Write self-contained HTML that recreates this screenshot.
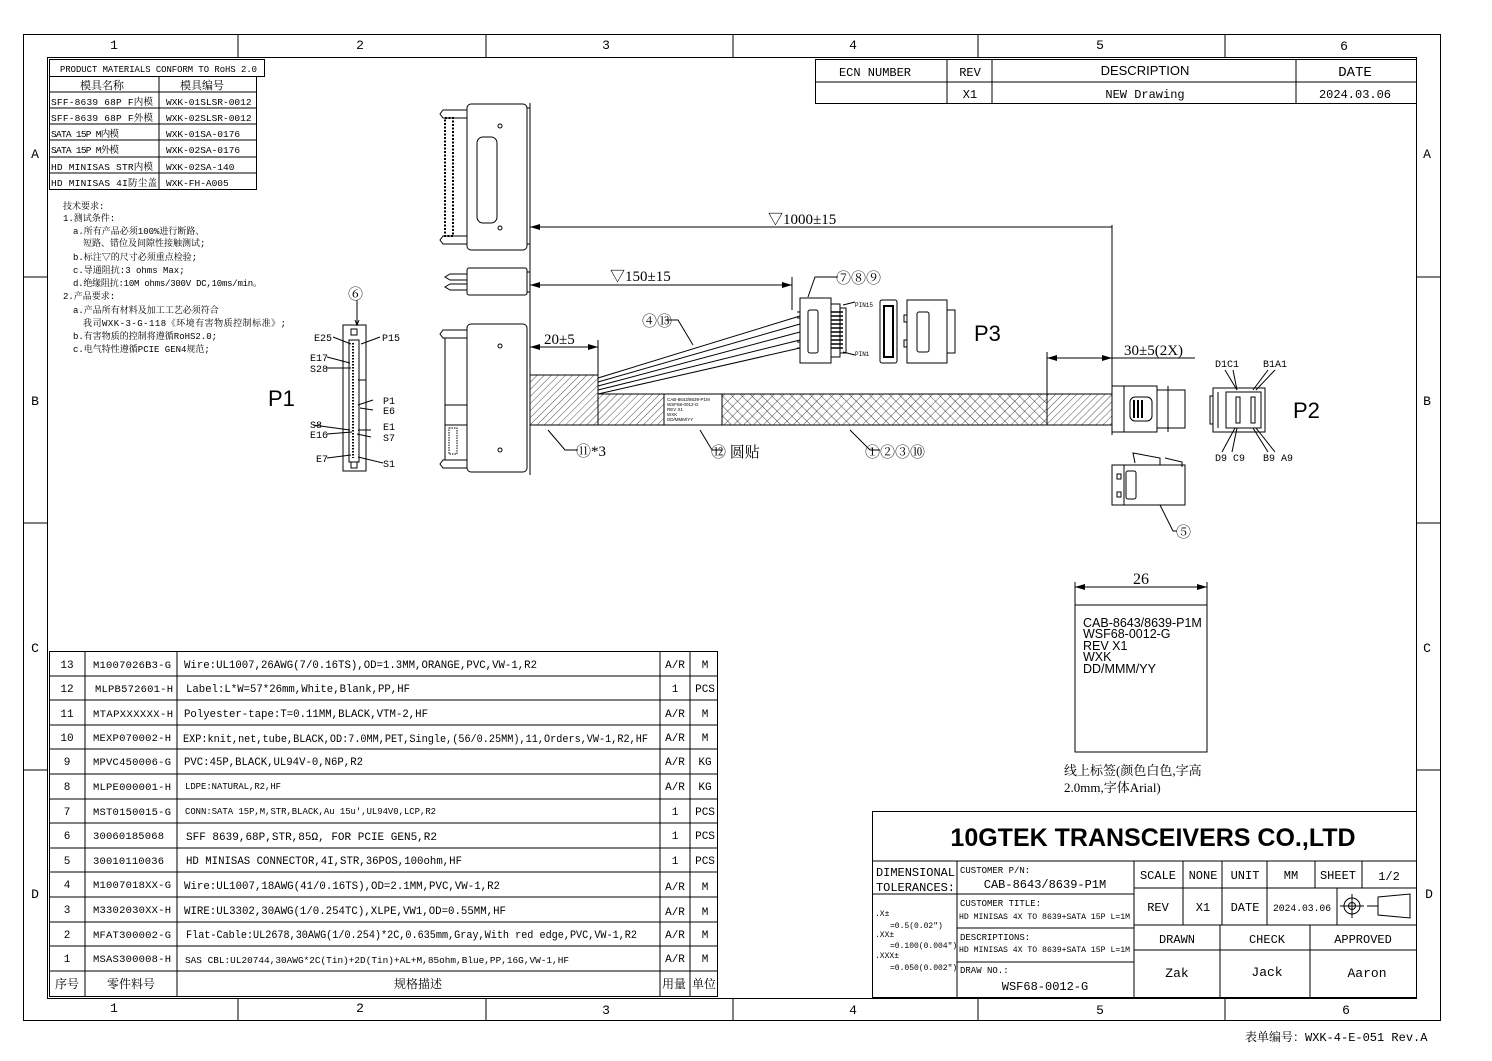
<!DOCTYPE html>
<html><head><meta charset="utf-8"><style>
html,body{margin:0;padding:0;background:#fff}
svg{display:block}
text{font-family:"Liberation Mono","Noto Serif CJK SC",monospace;fill:#000}
.s{font-family:"Liberation Sans","Noto Sans CJK SC",sans-serif}
.c{font-family:"Liberation Serif","Noto Serif CJK SC",serif}
</style></head><body>
<svg width="1492" height="1061" viewBox="0 0 1492 1061" xmlns="http://www.w3.org/2000/svg">
<defs>
<pattern id="h" width="5" height="5" patternUnits="userSpaceOnUse" patternTransform="rotate(45)"><line x1="0" y1="0" x2="0" y2="5" stroke="#000" stroke-width="0.7"/></pattern>
<pattern id="x" width="7" height="7" patternUnits="userSpaceOnUse" patternTransform="rotate(45)"><path d="M0 0V7M0 0H7" stroke="#000" stroke-width="0.7" fill="none"/></pattern>
<marker id="a" markerWidth="10" markerHeight="6" refX="10" refY="3" orient="auto-start-reverse"><path d="M0 0L10 3L0 6z" fill="#000"/></marker>
</defs>
<rect width="1492" height="1061" fill="#fff"/>
<g fill="none" stroke="#000" stroke-width="1">
<rect x="23.5" y="34.5" width="1417" height="986"/>
<rect x="47.5" y="57.5" width="1369" height="941"/>
<path d="M238 34V57M486 34V57M733 34V57M978 34V57M1225 34V57M238 998V1020M486 998V1020M733 998V1020M978 998V1020M1225 998V1020M23 277H47M23 523H47M23 770H47M1416 277H1440M1416 523H1440M1416 770H1440"/>
<rect x="815.5" y="59.5" width="601" height="44"/>
<path d="M815 82H1416M947 59V103M992 59V103M1296 59V103"/>
<rect x="49.5" y="59.5" width="215" height="17"/>
<rect x="49.5" y="76.5" width="207" height="113"/>
<path d="M49 92H256M49 108H256M49 124H256M49 140H256M49 157H256M49 173H256M159 76V189"/>
<rect x="49.5" y="651.5" width="668" height="345"/>
<path d="M85 651V996M177 651V996M660 651V996M690 651V996"/>
<path d="M49 676H717M49 700H717M49 725H717M49 749H717M49 774H717M49 799H717M49 823H717M49 848H717M49 872H717M49 897H717M49 922H717M49 946H717M49 971H717"/>
<rect x="872.5" y="811.5" width="544" height="186"/>
<path d="M872 861H1416M957 861V997M1134 861V997M872 894H957M957 894H1134M957 928H1134M957 962H1134M1134 888H1416M1134 925H1416M1134 950H1416M1183 861V925M1222 861V925M1267 861V925M1315 861V888M1362 861V888M1337 888V925M1220 925V997M1310 925V997"/>
<circle cx="1352" cy="906" r="8"/><circle cx="1352" cy="906" r="3.5"/><path d="M1340 906H1364M1352 894V918M1367 906H1378M1378 897L1410 894V918L1378 915Z"/>
</g>
<g font-size="13" text-anchor="middle">
<text x="114" y="49">1</text><text x="360" y="49">2</text><text x="606" y="49">3</text><text x="853" y="49">4</text><text x="1100" y="49">5</text><text x="1344" y="50">6</text>
<text x="114" y="1012">1</text><text x="360" y="1012">2</text><text x="606" y="1014">3</text><text x="853" y="1014">4</text><text x="1100" y="1014">5</text><text x="1346" y="1014">6</text>
<text x="35" y="158">A</text><text x="35" y="405">B</text><text x="35" y="652">C</text><text x="35" y="898">D</text>
<text x="1427" y="158">A</text><text x="1427" y="405">B</text><text x="1427" y="652">C</text><text x="1429" y="898">D</text>
</g>
<g font-size="12" text-anchor="middle">
<text x="875" y="76">ECN NUMBER</text><text x="970" y="76">REV</text><text x="1145" y="75" class="s" font-size="13">DESCRIPTION</text><text x="1355" y="76" font-size="14">DATE</text>
<text x="970" y="98">X1</text><text x="1145" y="98">NEW Drawing</text><text x="1355" y="98">2024.03.06</text>
</g>
<g font-size="9.5">
<text x="60" y="72" textLength="197" lengthAdjust="spacingAndGlyphs">PRODUCT MATERIALS CONFORM TO RoHS 2.0</text>
<text x="80" y="89" font-size="11">模具名称</text><text x="180" y="89" font-size="11">模具编号</text>
<text x="51" y="105" textLength="102">SFF-8639 68P F内模</text><text x="166" y="105">WXK-01SLSR-0012</text>
<text x="51" y="121" textLength="102">SFF-8639 68P F外模</text><text x="166" y="121">WXK-02SLSR-0012</text>
<text x="51" y="137" textLength="68">SATA 15P M内模</text><text x="166" y="137">WXK-01SA-0176</text>
<text x="51" y="153" textLength="68">SATA 15P M外模</text><text x="166" y="153">WXK-02SA-0176</text>
<text x="51" y="170" textLength="102">HD MINISAS STR内模</text><text x="166" y="170">WXK-02SA-140</text>
<text x="51" y="186" textLength="106">HD MINISAS 4I防尘盖</text><text x="166" y="186">WXK-FH-A005</text>
</g>
<g font-size="9">
<text x="63" y="209">技术要求:</text>
<text x="63" y="221">1.测试条件:</text>
<text x="73" y="234">a.所有产品必须100%进行断路、</text>
<text x="83" y="246">短路、错位及间隙性接触测试;</text>
<text x="73" y="260">b.标注▽的尺寸必须重点检验;</text>
<text x="73" y="273">c.导通阻抗:3 ohms Max;</text>
<text x="73" y="286" textLength="189">d.绝缘阻抗:10M ohms/300V DC,10ms/min。</text>
<text x="63" y="299">2.产品要求:</text>
<text x="73" y="313">a.产品所有材料及加工工艺必须符合</text>
<text x="83" y="326" textLength="203">我司WXK-3-G-118《环境有害物质控制标准》;</text>
<text x="73" y="339">b.有害物质的控制将遵循RoHS2.0;</text>
<text x="73" y="352">c.电气特性遵循PCIE GEN4规范;</text>
</g>
<g font-size="11">
<g text-anchor="middle">
<text x="67" y="668">13</text><text x="67" y="692">12</text><text x="67" y="717">11</text><text x="67" y="741">10</text><text x="67" y="765">9</text><text x="67" y="790">8</text><text x="67" y="815">7</text><text x="67" y="839">6</text><text x="67" y="864">5</text><text x="67" y="888">4</text><text x="67" y="913">3</text><text x="67" y="938">2</text><text x="67" y="962">1</text><text x="67" y="988" font-size="12">序号</text>
</g>
<g font-size="10.5">
<text x="93" y="668" textLength="78">M1007026B3-G</text><text x="95" y="692" textLength="78">MLPB572601-H</text><text x="93" y="717" textLength="80">MTAPXXXXXX-H</text><text x="93" y="741" textLength="78">MEXP070002-H</text><text x="93" y="765" textLength="78">MPVC450006-G</text><text x="93" y="790" textLength="78">MLPE000001-H</text><text x="93" y="815" textLength="78">MST0150015-G</text><text x="93" y="839" textLength="71">30060185068</text><text x="93" y="864" textLength="71">30010110036</text><text x="93" y="888" textLength="78">M1007018XX-G</text><text x="93" y="913" textLength="78">M3302030XX-H</text><text x="93" y="938" textLength="78">MFAT300002-G</text><text x="93" y="962" textLength="78">MSAS300008-H</text>
</g>
<g text-anchor="middle">
<text x="131" y="988" font-size="12">零件料号</text>
<text x="418" y="988" font-size="12">规格描述</text>
<text x="675" y="668">A/R</text><text x="675" y="692">1</text><text x="675" y="717">A/R</text><text x="675" y="741">A/R</text><text x="675" y="765">A/R</text><text x="675" y="790">A/R</text><text x="675" y="815">1</text><text x="675" y="839">1</text><text x="675" y="864">1</text><text x="675" y="890">A/R</text><text x="675" y="915">A/R</text><text x="675" y="938">A/R</text><text x="675" y="962">A/R</text><text x="674" y="988" font-size="12">用量</text>
<text x="705" y="668">M</text><text x="705" y="692">PCS</text><text x="705" y="717">M</text><text x="705" y="741">M</text><text x="705" y="765">KG</text><text x="705" y="790">KG</text><text x="705" y="815">PCS</text><text x="705" y="839">PCS</text><text x="705" y="864">PCS</text><text x="705" y="890">M</text><text x="705" y="915">M</text><text x="705" y="938">M</text><text x="705" y="962">M</text><text x="704" y="988" font-size="12">单位</text>
</g>
<g lengthAdjust="spacingAndGlyphs">
<text x="184" y="668" textLength="353" lengthAdjust="spacingAndGlyphs">Wire:UL1007,26AWG(7/0.16TS),OD=1.3MM,ORANGE,PVC,VW-1,R2</text>
<text x="186" y="692" textLength="224" lengthAdjust="spacingAndGlyphs">Label:L*W=57*26mm,White,Blank,PP,HF</text>
<text x="184" y="717" textLength="244" lengthAdjust="spacingAndGlyphs">Polyester-tape:T=0.11MM,BLACK,VTM-2,HF</text>
<text x="183" y="742" textLength="465" lengthAdjust="spacingAndGlyphs">EXP:knit,net,tube,BLACK,OD:7.0MM,PET,Single,(56/0.25MM),11,Orders,VW-1,R2,HF</text>
<text x="184" y="765" textLength="179" lengthAdjust="spacingAndGlyphs">PVC:45P,BLACK,UL94V-0,N6P,R2</text>
<text x="185" y="789" font-size="9" textLength="96" lengthAdjust="spacingAndGlyphs">LDPE:NATURAL,R2,HF</text>
<text x="185" y="814" font-size="9" textLength="251" lengthAdjust="spacingAndGlyphs">CONN:SATA 15P,M,STR,BLACK,Au 15u',UL94V0,LCP,R2</text>
<text x="186" y="840" textLength="251" lengthAdjust="spacingAndGlyphs">SFF 8639,68P,STR,85Ω, FOR PCIE GEN5,R2</text>
<text x="186" y="864" textLength="276" lengthAdjust="spacingAndGlyphs">HD MINISAS CONNECTOR,4I,STR,36POS,100ohm,HF</text>
<text x="184" y="889" textLength="316" lengthAdjust="spacingAndGlyphs">Wire:UL1007,18AWG(41/0.16TS),OD=2.1MM,PVC,VW-1,R2</text>
<text x="184" y="914" textLength="322" lengthAdjust="spacingAndGlyphs">WIRE:UL3302,30AWG(1/0.254TC),XLPE,VW1,OD=0.55MM,HF</text>
<text x="186" y="938" textLength="451" lengthAdjust="spacingAndGlyphs">Flat-Cable:UL2678,30AWG(1/0.254)*2C,0.635mm,Gray,With red edge,PVC,VW-1,R2</text>
<text x="185" y="963" font-size="9.5" textLength="384" lengthAdjust="spacingAndGlyphs">SAS CBL:UL20744,30AWG*2C(Tin)+2D(Tin)+AL+M,85ohm,Blue,PP,16G,VW-1,HF</text>
</g>
</g>
<text x="1153" y="846" class="s" font-size="25" font-weight="bold" text-anchor="middle">10GTEK TRANSCEIVERS CO.,LTD</text>
<g font-size="12">
<text x="876" y="876" textLength="79">DIMENSIONAL</text><text x="876" y="891" textLength="79">TOLERANCES:</text>
<text x="875" y="916" font-size="8">.X±</text><text x="890" y="928" font-size="8">=0.5(0.02")</text>
<text x="875" y="937" font-size="8">.XX±</text><text x="890" y="948" font-size="8">=0.100(0.004")</text>
<text x="875" y="958" font-size="8">.XXX±</text><text x="890" y="970" font-size="8">=0.050(0.002")</text>
<text x="960" y="873" font-size="9">CUSTOMER P/N:</text><text x="1045" y="888" text-anchor="middle">CAB-8643/8639-P1M</text>
<text x="960" y="906" font-size="9">CUSTOMER TITLE:</text><text x="959" y="919" font-size="8.5" textLength="171" lengthAdjust="spacingAndGlyphs">HD MINISAS 4X TO 8639+SATA 15P L=1M</text>
<text x="960" y="940" font-size="9">DESCRIPTIONS:</text><text x="959" y="952" font-size="8.5" textLength="171" lengthAdjust="spacingAndGlyphs">HD MINISAS 4X TO 8639+SATA 15P L=1M</text>
<text x="960" y="973" font-size="9">DRAW NO.:</text><text x="1045" y="990" text-anchor="middle">WSF68-0012-G</text>
<g text-anchor="middle">
<text x="1158" y="879">SCALE</text><text x="1203" y="879">NONE</text><text x="1245" y="879">UNIT</text><text x="1291" y="879">MM</text><text x="1338" y="879">SHEET</text><text x="1389" y="880">1/2</text>
<text x="1158" y="911">REV</text><text x="1203" y="911">X1</text><text x="1245" y="911">DATE</text><text x="1302" y="911" font-size="10.5" textLength="58" lengthAdjust="spacingAndGlyphs">2024.03.06</text>
<text x="1177" y="943">DRAWN</text><text x="1267" y="943">CHECK</text><text x="1363" y="943">APPROVED</text>
<text x="1177" y="977" font-size="13">Zak</text><text x="1267" y="976" font-size="13">Jack</text><text x="1367" y="977" font-size="13">Aaron</text>
</g>
</g>
<text x="1245" y="1041" font-size="12">表单编号：WXK-4-E-051 Rev.A</text>

<g fill="none" stroke="#000" stroke-width="1">
<rect x="467" y="104" width="60" height="146" rx="4"/>
<path d="M527 108H530V244H527M467 110H443L440 114L443 118H467M467 236H443L440 240L443 244H467"/>
<rect x="445" y="118" width="8" height="118" stroke-dasharray="2 1.5" stroke-width="2"/>
<rect x="477" y="137" width="20" height="86" rx="6"/>
<circle cx="500" cy="126" r="2"/><circle cx="500" cy="228" r="2"/>
<rect x="467" y="268" width="60" height="27" rx="2"/>
<path d="M467 274H450L445 277L450 280H467M467 284H450L445 287L450 290H467M527 272H530V292H527"/>
<rect x="467" y="324" width="60" height="148" rx="4"/>
<path d="M467 330H443L440 334L443 338H467M467 460H443L440 464L443 468H467M445 338V460H467M445 405H467M445 425H467"/>
<rect x="449" y="428" width="8" height="26" stroke-dasharray="1.5 1"/>
<circle cx="500" cy="346" r="2"/><circle cx="500" cy="450" r="2"/>
<path d="M530 103V475"/>
<rect x="530" y="375" width="68" height="50" fill="url(#h)"/>
<rect x="598" y="394" width="66" height="31" fill="url(#h)"/>
<rect x="664" y="394" width="58" height="31" fill="#fff"/>
<rect x="722" y="394" width="325" height="31" fill="url(#x)"/>
<rect x="1047" y="394" width="65" height="31" fill="url(#h)"/>
<path d="M598 425V340M598 378L800 316M598 382L800 324M598 386L800 332M598 390L800 340M598 394L800 348"/>
<path d="M530 227H1112" marker-start="url(#a)"/>
<path d="M530 285H792" marker-start="url(#a)" marker-end="url(#a)"/>
<path d="M792 277V310"/>
<path d="M530 347H598" marker-start="url(#a)" marker-end="url(#a)"/>
<path d="M1047 358H1112" marker-start="url(#a)" marker-end="url(#a)"/><path d="M1112 358H1195M1047 352V394M1112 225V435"/>
<rect x="800" y="298" width="31" height="65"/>
<path d="M831 304H840V357H831M840 308H846V353H840M797 312H800V318H797M797 342H800V348H797"/>
<rect x="808" y="310" width="10" height="43" rx="2"/>
<path d="M831 312H843M831 316H843M831 320H843M831 324H843M831 328H843M831 332H843M831 336H843M831 340H843M831 344H843M831 348H843" stroke-width="1.5"/>
<rect x="880" y="300" width="17" height="63" rx="2"/><rect x="884" y="306" width="9" height="51" stroke-width="2"/>
<rect x="907" y="300" width="40" height="63"/>
<path d="M947 310H955V353H947M907 315H904V322H907M907 340H904V347H907"/>
<rect x="917" y="312" width="12" height="40" rx="2"/>
<path d="M843 305L855 302M843 352L855 355"/>
<rect x="343" y="325" width="23" height="146"/>
<rect x="349" y="340" width="10" height="122"/>
<rect x="351" y="329" width="6" height="6"/><rect x="351" y="462" width="6" height="6"/>
<path d="M353 343V458" stroke-dasharray="1.5 1.5" stroke-width="2"/>
<path d="M357 300V325M355 320L357 325L359 320" />
<path d="M333 337L351 344M361 344L380 337M327 357L350 363M327 368L351 368M373 400L358 405M373 410L360 408M313 425L350 430M327 434L352 432M371 430L360 430M371 437L357 434M327 458L351 455M383 463L358 457"/>
<path d="M358 380H366V430H358"/>
<rect x="1112" y="386" width="45" height="46"/>
<path d="M1157 390H1185V428H1157M1124 386V432M1168 386V432"/>
<rect x="1130" y="397" width="22" height="24" rx="5"/>
<path d="M1134 400V418M1138 400V418M1142 400V418" stroke-width="2"/>
<rect x="1213" y="388" width="52" height="44"/>
<rect x="1226" y="392" width="35" height="36"/>
<rect x="1236" y="397" width="4" height="26"/><rect x="1251" y="397" width="4" height="26"/>
<path d="M1218 392V428M1213 396H1210V424H1213"/>
<path d="M1225 370L1237 390M1233 370L1237 390M1268 370L1253 390M1275 370L1256 390M1222 452L1235 428M1232 452L1237 428M1268 452L1253 428M1275 452L1256 428"/>
<rect x="1112" y="465" width="73" height="40"/>
<path d="M1124 465V505M1135 463L1133 453L1160 458V465M1165 458L1182 462V467"/>
<rect x="1117" y="474" width="4" height="5"/><rect x="1117" y="492" width="4" height="5"/><rect x="1126" y="471" width="10" height="28" rx="2"/>
<path d="M548 430L565 450H578M700 430L712 450H722M850 430L870 450H880M1160 505L1173 531H1177M665 320H678L693 345M808 297L815 277H838"/>
<rect x="1075" y="605" width="132" height="147"/>
<path d="M1075 587H1207" marker-start="url(#a)" marker-end="url(#a)"/>
<path d="M1075 582V605M1207 582V605"/>
</g>
<g font-size="15" class="c">
<text x="768" y="224" class="c">▽1000±15</text>
<text x="610" y="281" class="c">▽150±15</text>
<text x="544" y="344" class="c">20±5</text>
<text x="1124" y="355" class="c">30±5(2X)</text>
<text x="1133" y="584" font-size="16" class="c">26</text>
<text x="642" y="326" class="c">④⑬</text>
<text x="836" y="283" class="c">⑦⑧⑨</text>
<text x="576" y="456" class="c">⑪*3</text>
<text x="711" y="457" class="c">⑫ 圆贴</text>
<text x="865" y="457" class="c">①②③⑩</text>
<text x="1176" y="537" class="c">⑤</text>
<text x="348" y="299" class="c">⑥</text>
</g>
<g font-size="10">
<text x="314" y="341">E25</text><text x="382" y="341">P15</text>
<text x="310" y="361">E17</text><text x="310" y="372">S28</text>
<text x="383" y="404">P1</text><text x="383" y="414">E6</text>
<text x="310" y="428">S8</text><text x="310" y="438">E16</text>
<text x="383" y="430">E1</text><text x="383" y="441">S7</text>
<text x="316" y="462">E7</text><text x="383" y="467">S1</text>
<text x="1215" y="367">D1C1</text><text x="1263" y="367">B1A1</text>
<text x="1215" y="461">D9 C9</text><text x="1263" y="461">B9 A9</text>
<text x="855" y="307" font-size="6">PIN15</text><text x="855" y="356" font-size="6">PIN1</text>
</g>
<text x="268" y="406" class="s" font-size="22">P1</text>
<text x="974" y="341" class="s" font-size="22">P3</text>
<text x="1293" y="418" class="s" font-size="22">P2</text>
<g font-size="4.5"><text x="667" y="401" class="s">CAB-8643/8639-P1M</text><text x="667" y="406" class="s">WSF68-0012-G</text><text x="667" y="411" class="s">REV X1</text><text x="667" y="416" class="s">WXK</text><text x="667" y="421" class="s">DD/MMM/YY</text></g>
<g font-size="12.5"><text x="1083" y="627" class="s">CAB-8643/8639-P1M</text><text x="1083" y="638" class="s">WSF68-0012-G</text><text x="1083" y="650" class="s">REV X1</text><text x="1083" y="661" class="s">WXK</text><text x="1083" y="673" class="s">DD/MMM/YY</text></g>
<text x="1064" y="775" font-size="13" class="c">线上标签(颜色白色,字高</text>
<text x="1064" y="792" font-size="13" class="c">2.0mm,字体Arial)</text>
</svg>
</body></html>
